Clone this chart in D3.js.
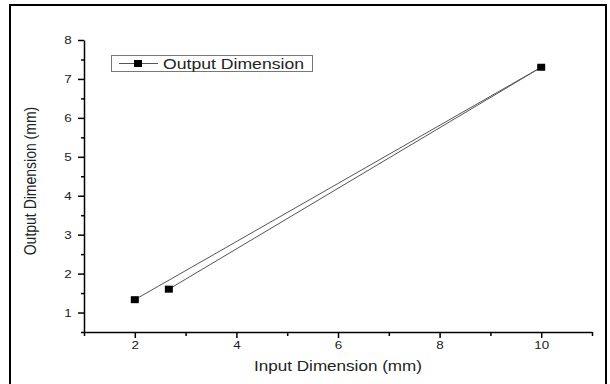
<!DOCTYPE html>
<html lang="en">
<head>
  <meta charset="UTF-8">
  <script src="https://cdn.jsdelivr.net/npm/d3@7"></script>
  <title>Output vs Input Dimension</title>
  <style>
    body { margin: 0; background: #fff; }
    text { font-family: "Liberation Sans", Arial, sans-serif; fill: #222; }
  </style>
</head>
<body>
  <svg width="610" height="384"></svg>
  <script>
    // data (in drawing order of the line)
    var inputDim = [2, 10, 2.67];
    var outputDim = [1.33, 7.3, 1.6];
    var seriesName = "Output Dimension";
    var xTicks = [2, 4, 6, 8, 10];
    var xMinor = [1, 3, 5, 7, 9, 11];
    var yTicks = [1, 2, 3, 4, 5, 6, 7, 8];
    var yMinor = [0.5, 1.5, 2.5, 3.5, 4.5, 5.5, 6.5, 7.5];

    var svg = d3.select("svg");
    var sx = 1.22; // the picture is a bit wider than tall

    // outer frame (no bottom edge)
    svg.append("path")
      .attr("d", "M10,384 V5 H606 V384")
      .attr("fill", "none")
      .attr("stroke", "#000")
      .attr("stroke-width", 2);

    var x = d3.scaleLinear().domain([1, 11]).range([84, 592]);
    var y = d3.scaleLinear().domain([0.5, 8]).range([332, 40]);

    // minor ticks first
    svg.append("g")
      .attr("transform", "translate(0,332)")
      .call(d3.axisBottom(x).tickValues(xMinor).tickSize(4).tickSizeOuter(0).tickFormat(""))
      .call(g => g.select(".domain").remove());
    svg.append("g")
      .attr("transform", "translate(84,0)")
      .call(d3.axisLeft(y).tickValues(yMinor).tickSize(3).tickSizeOuter(0).tickFormat(""))
      .call(g => g.select(".domain").remove());

    var xAxis = svg.append("g")
      .attr("transform", "translate(0,332)")
      .call(d3.axisBottom(x).tickValues(xTicks).tickSize(6).tickSizeOuter(0).tickFormat(d3.format("d")));
    xAxis.selectAll("text")
      .attr("y", 9)
      .attr("transform", "scale(" + sx + ",1)")
      .style("font-size", "11px");

    var yAxis = svg.append("g")
      .attr("transform", "translate(84,0)")
      .call(d3.axisLeft(y).tickValues(yTicks).tickSize(6).tickSizeOuter(0).tickFormat(d3.format("d")));
    yAxis.selectAll("text")
      .attr("x", -10)
      .attr("transform", "scale(" + sx + ",1)")
      .style("font-size", "11px");

    svg.selectAll(".domain, .tick line")
      .attr("stroke", "#000")
      .attr("stroke-width", 1.5);

    // axis titles
    svg.append("text")
      .attr("transform", "translate(338,371) scale(" + sx + ",1)")
      .attr("text-anchor", "middle")
      .style("font-size", "14px")
      .text("Input Dimension (mm)");

    svg.append("text")
      .attr("transform", "translate(36,181) rotate(-90) scale(1," + sx + ")")
      .attr("text-anchor", "middle")
      .style("font-size", "14px")
      .text("Output Dimension (mm)");

    // series line + markers
    var pts = inputDim.map((d, i) => [d, outputDim[i]]);
    var line = d3.line().x(d => x(d[0])).y(d => y(d[1]));
    svg.append("path")
      .attr("d", line(pts))
      .attr("fill", "none")
      .attr("stroke", "#555")
      .attr("stroke-width", 1);

    svg.selectAll(".pt")
      .data(pts)
      .enter()
      .append("rect")
      .attr("class", "pt")
      .attr("x", d => x(d[0]) - 4)
      .attr("y", d => y(d[1]) - 3.5)
      .attr("width", 8)
      .attr("height", 7)
      .attr("fill", "#000");

    // legend
    var lg = svg.append("g");
    lg.append("rect")
      .attr("x", 111.5).attr("y", 55.5)
      .attr("width", 201).attr("height", 16)
      .attr("fill", "#fff")
      .attr("stroke", "#777");
    lg.append("line")
      .attr("x1", 119).attr("x2", 158)
      .attr("y1", 63.5).attr("y2", 63.5)
      .attr("stroke", "#555");
    lg.append("rect")
      .attr("x", 134).attr("y", 60)
      .attr("width", 8).attr("height", 7)
      .attr("fill", "#000");
    lg.append("text")
      .attr("transform", "translate(163,69) scale(1.26,1)")
      .style("font-size", "14px")
      .text(seriesName);
  </script>
</body>
</html>
